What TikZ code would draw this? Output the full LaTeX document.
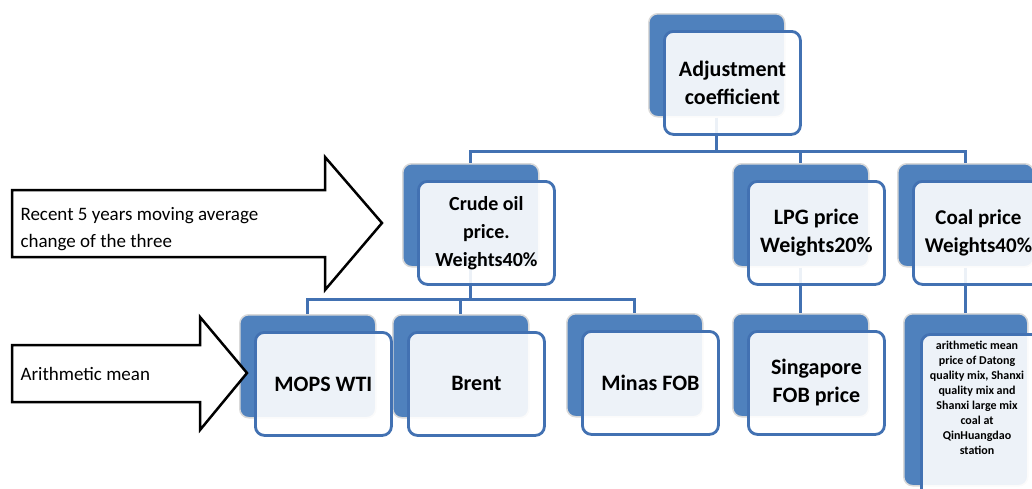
\documentclass[tikz,border=0pt]{standalone}
\usepackage{fontspec}
\setmainfont{Carlito}
\definecolor{smartblue}{RGB}{79,129,189}
\definecolor{edgeblue}{RGB}{66,113,178}

\begin{document}
\begin{tikzpicture}[x=1pt, y=-1pt]
  \tikzstyle{back} = [draw=black!15, line width=1.5pt, fill=smartblue, rounded corners=9pt, anchor=north west, minimum width=136pt, minimum height=103pt, inner sep=0pt]
  \tikzstyle{front} = [draw=edgeblue, line width=2.8pt, fill=white, fill opacity=0.9, text opacity=1, rounded corners=9pt, anchor=north west, minimum width=136pt, minimum height=103pt, inner sep=0pt, align=center, font=\fontsize{22}{28}\selectfont\bfseries]
  \tikzstyle{conn} = [draw=edgeblue, line width=2.8pt]
  \tikzstyle{bigarrow} = [draw=black, line width=2.5pt, fill=white, line join=miter]
  \tikzstyle{note} = [anchor=west, align=left, font=\fontsize{19}{27}\selectfont]
  \tikzstyle{kidtext} = [align=center, font=\fontsize{12}{15}\selectfont\bfseries]
  \useasboundingbox (0,0) rectangle (1032,488);
  \clip (0,0) rectangle (1032,488);

  % back plates
  \node [back] (adjB) at (648,13) {};
  \node [back] (crudeB) at (402,163) {};
  \node [back] (lpgB) at (732,163) {};
  \node [back] (coalB) at (897,163) {};
  \node [back] (mopsB) at (239,314) {};
  \node [back] (brentB) at (392,314) {};
  \node [back] (minasB) at (566,313) {};
  \node [back] (singB) at (732,313) {};
  \node [back, minimum width=124pt, minimum height=172pt] (coalkidB) at (903,313) {};

  % tree lines
  \draw [conn] (adjB.south) -- ++(0,34) -| (crudeB.north);
  \draw [conn] (adjB.south) ++(0,34) -| (lpgB.north);
  \draw [conn] (adjB.south) ++(0,34) -| (coalB.north);
  \draw [conn] (crudeB.south) -- ++(0,32) -| (mopsB.north);
  \draw [conn] (crudeB.south) ++(0,32) -| (brentB.north);
  \draw [conn] (crudeB.south) ++(0,32) -| (minasB.north);
  \draw [conn] (lpgB.south) -- (singB.north);
  \draw [conn] (coalB.south) -- (coalkidB.north);

  % front plates
  \node [front, xshift=15pt, yshift=-17pt] (adj) at (adjB.north west) {Adjustment\\coefficient};
  \node [front, xshift=15pt, yshift=-17pt, font=\fontsize{20}{28}\selectfont\bfseries] (crude) at (crudeB.north west) {Crude oil\\price.\\Weights40\%};
  \node [front, xshift=15pt, yshift=-17pt] (lpg) at (lpgB.north west) {LPG price\\Weights20\%};
  \node [front, xshift=15pt, yshift=-17pt, minimum width=130pt, font=\fontsize{21}{28}\selectfont\bfseries] (coal) at (coalB.north west) {Coal price\\Weights40\%};
  \node [front, xshift=15pt, yshift=-17pt] (mops) at (mopsB.north west) {MOPS WTI};
  \node [front, xshift=15pt, yshift=-17pt] (brent) at (brentB.north west) {Brent};
  \node [front, xshift=15pt, yshift=-17pt] (minas) at (minasB.north west) {Minas FOB};
  \node [front, xshift=15pt, yshift=-17pt] (sing) at (singB.north west) {Singapore\\FOB price};
  \node [front, xshift=17pt, yshift=-20pt, minimum width=124pt, minimum height=180pt] (coalkid) at (coalkidB.north west) {};
  \node [kidtext] (coalkidT) at (977,398) {arithmetic mean\\price of Datong\\quality mix, Shanxi\\quality mix and\\Shanxi large mix\\coal at\\QinHuangdao\\station};

  % block arrows
  \draw [bigarrow] (12,190) -- (325,190) -- (325,157) -- (382,223) -- (325,290) -- (325,257) -- (12,257) -- cycle;
  \node [note] (movavg) at (17,229) {Recent 5 years moving average\\change of the three};
  \draw [bigarrow] (12,345) -- (200,345) -- (200,317) -- (247,373) -- (200,430) -- (200,402) -- (12,402) -- cycle;
  \node [note] (arith) at (17,374) {Arithmetic mean};
\end{tikzpicture}
\end{document}
